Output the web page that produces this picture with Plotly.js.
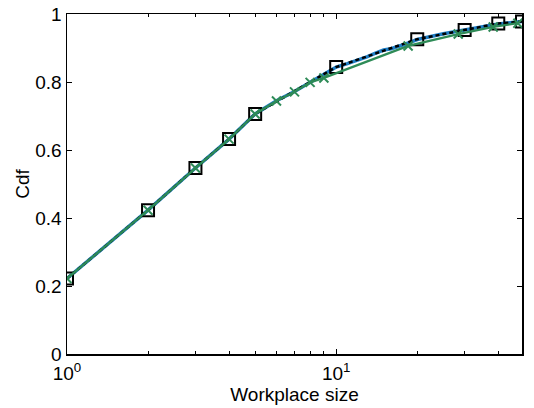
<!DOCTYPE html>
<html>
<head>
<meta charset="utf-8">
<script src="https://cdn.plot.ly/plotly-3.0.1.min.js"></script>
<style>html,body{margin:0;padding:0;background:#fff}#chart{width:534px;height:408px}</style>
</head>
<body>
<div id="chart"></div>
<script>
// Squares (black dashed)
const sqX = [1, 2, 3, 4, 5, 10, 20, 30, 40, 49];
const sqY = [0.222, 0.423, 0.547, 0.632, 0.706, 0.844, 0.926, 0.953, 0.972, 0.978];
// Blue solid line
const blueX = [1, 2, 3, 4, 5, 6, 7, 8, 9, 10, 11, 12, 13, 14, 15, 16, 17, 18, 19, 20, 25, 30, 35, 40, 45, 49];
const blueY = [0.222, 0.423, 0.547, 0.632, 0.706, 0.745, 0.772, 0.799, 0.822, 0.844, 0.854, 0.864, 0.874, 0.885, 0.894, 0.898, 0.904, 0.911, 0.918, 0.925, 0.942, 0.953, 0.963, 0.971, 0.975, 0.978];
// Green with x markers
const grX = [1, 2, 3, 4, 5, 6, 7, 8, 9, 18.5, 28.4, 38.3, 47.3];
const grY = [0.222, 0.423, 0.547, 0.632, 0.706, 0.744, 0.771, 0.799, 0.812, 0.906, 0.941, 0.962, 0.973];
// Axis ticks
const xMajor = [1, 10];
const xMajorText = ['10<sup>0</sup>', '10<sup>1</sup>'];
const xMinor = [2, 3, 4, 5, 6, 7, 8, 9, 20, 30, 40];
const yTicks = [0, 0.2, 0.4, 0.6, 0.8, 1];
const yTickText = ['0', '0.2', '0.4', '0.6', '0.8', '1'];

const traces = [
  {x: blueX, y: blueY, mode: 'lines', line: {color: '#1f7fc6', width: 3.5}, hoverinfo: 'skip'},
  {x: sqX, y: sqY, mode: 'lines+markers', line: {color: '#000', width: 2.5, dash: '4px,3px'},
   marker: {symbol: 'square-open', size: 12, color: '#000', line: {width: 2, color: '#000'}}},
  {x: grX, y: grY, mode: 'lines+markers', line: {color: '#2e8b57', width: 2.3},
   marker: {symbol: 'x-thin-open', size: 9, color: '#2e8b57', line: {width: 2, color: '#2e8b57'}}}
];

const font = {family: 'Liberation Sans, Arial, Helvetica, sans-serif', size: 19, color: '#000'};

const layout = {
  width: 534, height: 408,
  margin: {l: 67, r: 12, t: 14, b: 54},
  paper_bgcolor: '#fff', plot_bgcolor: '#fff',
  showlegend: false,
  font: font,
  xaxis: {
    type: 'log', range: [0, Math.log10(49)],
    tickvals: xMajor, ticktext: xMajorText,
    ticks: 'inside', ticklen: 5, tickwidth: 1, tickcolor: '#000',
    minor: {tickvals: xMinor, ticks: 'inside', ticklen: 3, tickcolor: '#000', tickwidth: 1},
    showline: true, linecolor: '#000', linewidth: 1.5, mirror: 'ticks',
    showgrid: false, zeroline: false,
    tickfont: font, ticklabelstandoff: 2,
    title: {text: 'Workplace size', font: font, standoff: 0}
  },
  yaxis: {
    range: [0, 1],
    tickvals: yTicks, ticktext: yTickText,
    ticks: 'inside', ticklen: 5, tickwidth: 1, tickcolor: '#000',
    showline: true, linecolor: '#000', linewidth: 1.5, mirror: 'ticks',
    showgrid: false, zeroline: false,
    tickfont: font, ticklabelstandoff: 0,
    title: {text: 'Cdf', font: font, standoff: 0}
  }
};

Plotly.newPlot('chart', traces, layout, {displayModeBar: false, staticPlot: true});
</script>
</body>
</html>
